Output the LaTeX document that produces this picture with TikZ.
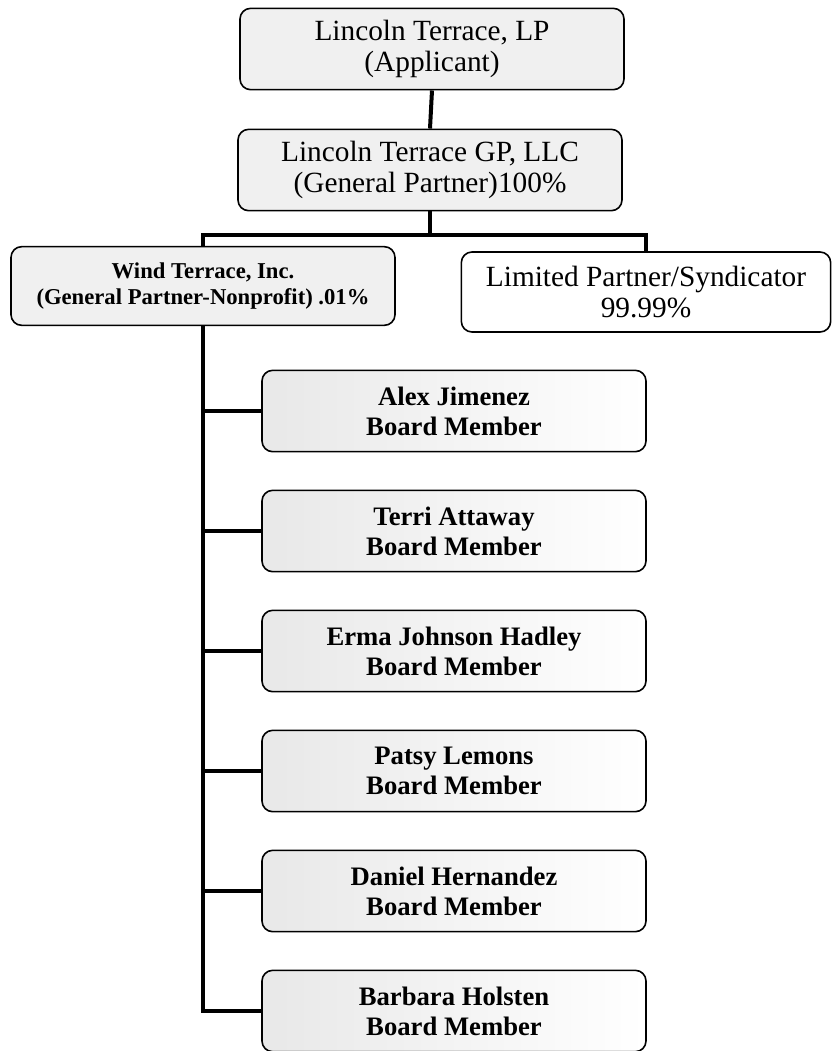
\documentclass[tikz,border=0pt]{standalone}
\usepackage{fontspec}
\setmainfont{Liberation Serif}
\usepackage{tikz}

\begin{document}
\begin{tikzpicture}[x=0.75pt, y=-0.75pt,
    entity/.style={draw, line width=1.2pt, rounded corners=8pt, align=center,
        minimum width=288pt, minimum height=61pt, inner sep=2pt},
    shaded/.style={fill=black!6},
    member/.style={entity, left color=black!9, right color=white,
        font=\bfseries\fontsize{20}{22.5}\selectfont},
    link/.style={line width=3pt}]
    \useasboundingbox (0,0) rectangle (833,1051);

    \node[entity, shaded, font=\fontsize{22}{23.5}\selectfont] (lp) at (432,49)
        {Lincoln Terrace, LP\\(Applicant)};
    \node[entity, shaded, font=\fontsize{22}{23.5}\selectfont] (gp) at (430,170)
        {Lincoln Terrace GP, LLC\\(General Partner)100\%};
    \node[entity, shaded, minimum height=59pt, font=\bfseries\fontsize{17}{20}\selectfont]
        (wind) at (203,286) {Wind Terrace, Inc.\\(General Partner-Nonprofit) .01\%};
    \node[entity, minimum width=277pt, minimum height=60pt,
        font=\fontsize{22}{23.5}\selectfont] (synd) at (646,292)
        {Limited Partner/Syndicator\\99.99\%};

    % board of the nonprofit
    \foreach \name [count=\i] in {Alex Jimenez, Terri Attaway, Erma Johnson Hadley,
        Patsy Lemons, Daniel Hernandez, Barbara Holsten} {
        \node[member] (m\i) at (454,291+120*\i) {\name\\Board Member};
    }

    \coordinate (bus) at (430,235);
    \draw[link] (lp.south) -- (gp.north);
    \draw[link] (gp.south) -- (bus);
    \draw[link] (wind.north) |- (bus) -| (synd.north);
    \draw[link] (wind.south) |- (m6.west);
    \foreach \i in {1,...,5} {
        \draw[link] (wind.south |- m\i.west) -- (m\i.west);
    }
\end{tikzpicture}
\end{document}
